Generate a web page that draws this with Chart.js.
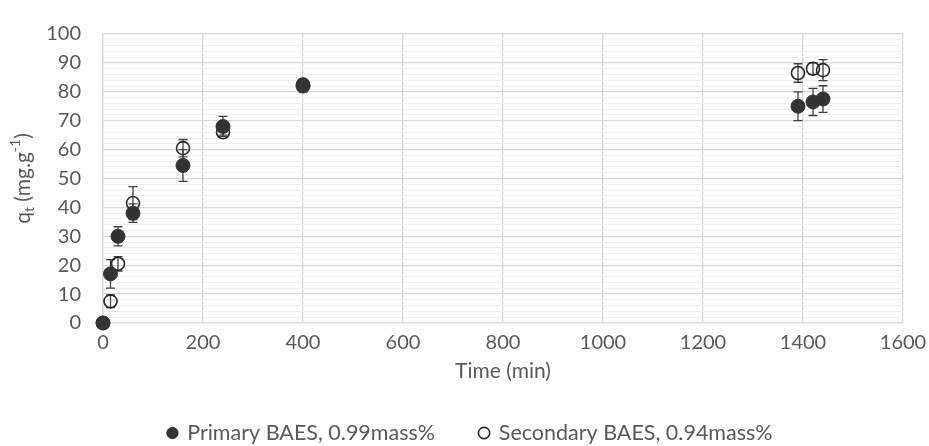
<!DOCTYPE html>
<html>
<head>
<meta charset="utf-8">
<script src="https://cdn.jsdelivr.net/npm/chart.js@4/dist/chart.umd.min.js"></script>
<style>
  html, body { margin: 0; padding: 0; background: #fff; }
  #wrap { width: 929px; height: 446px; }
</style>
</head>
<body>
<div id="wrap"><canvas id="kinetics"></canvas></div>
<script>
// Adsorption kinetics: q_t against contact time
const timeMin = [0, 15, 30, 60, 160, 240, 400, 1390, 1420, 1440];
const primaryQt = [0, 17, 30, 38, 54.5, 68, 82, 75, 76.5, 77.5];
const primaryErr = [0, 4.9, 3.3, 3.2, 5.5, 3.5, 2, 5, 4.7, 4.6];
const secondaryQt = [0, 7.5, 20.5, 41.5, 60.5, 66, 82.5, 86.5, 88, 87.5];
const secondaryErr = [0, 2.2, 2.5, 5.7, 3, 1, 1.5, 3.2, 2, 3.6];

const FONT = 'Lato, "Open Sans", sans-serif';
const GREY = '#595959';

// vertical error bars with caps, drawn under the markers
const errorBars = {
  id: 'errorBars',
  beforeDatasetsDraw(chart) {
    const { ctx, scales: { x, y } } = chart;
    const sets = [[primaryQt, primaryErr], [secondaryQt, secondaryErr]];
    ctx.save();
    ctx.strokeStyle = '#404040';
    ctx.lineWidth = 1.3;
    sets.forEach(([vals, errs]) => {
      vals.forEach((v, i) => {
        if (!errs[i]) return;
        const px = x.getPixelForValue(timeMin[i]);
        const top = y.getPixelForValue(v + errs[i]);
        const bot = y.getPixelForValue(v - errs[i]);
        ctx.beginPath();
        ctx.moveTo(px, top); ctx.lineTo(px, bot);
        ctx.moveTo(px - 4.5, top); ctx.lineTo(px + 4.5, top);
        ctx.moveTo(px - 4.5, bot); ctx.lineTo(px + 4.5, bot);
        ctx.stroke();
      });
    });
    ctx.restore();
  }
};

// y axis title with subscript and superscript
const yTitle = {
  id: 'yTitle',
  afterDraw(chart) {
    const { ctx, chartArea } = chart;
    const big = '21px ' + FONT, small = '14px ' + FONT;
    const parts = [
      ['q', big, 0], ['t', small, 6], [' (mg.g', big, 0], ['-1', small, -8], [')', big, 0]
    ];
    ctx.save();
    let w = 0;
    parts.forEach(p => { ctx.font = p[1]; w += ctx.measureText(p[0]).width; });
    ctx.translate(23, (chartArea.top + chartArea.bottom) / 2);
    ctx.rotate(-Math.PI / 2);
    ctx.fillStyle = GREY;
    ctx.textBaseline = 'middle';
    let cx = -w / 2;
    parts.forEach(p => {
      ctx.font = p[1];
      ctx.fillText(p[0], cx, p[2]);
      cx += ctx.measureText(p[0]).width;
    });
    ctx.restore();
  }
};

// the legend row counts a trailing gap, so nudge it back to centre
const legendShift = {
  id: 'legendShift',
  afterUpdate(chart) {
    chart.legend.left += 19;
    chart.legend.right += 19;
  }
};

new Chart(document.getElementById('kinetics'), {
  type: 'scatter',
  data: {
    datasets: [
      {
        label: 'Primary BAES, 0.99mass%',
        data: timeMin.map((t, i) => ({ x: t, y: primaryQt[i] })),
        clip: false,
        pointStyle: 'circle',
        pointRadius: 7,
        pointBackgroundColor: '#333333',
        pointBorderColor: '#333333',
        pointBorderWidth: 1
      },
      {
        label: 'Secondary BAES, 0.94mass%',
        data: timeMin.map((t, i) => ({ x: t, y: secondaryQt[i] })),
        clip: false,
        pointStyle: 'circle',
        pointRadius: 6.5,
        pointBackgroundColor: 'rgba(0,0,0,0)',
        pointBorderColor: '#262626',
        pointBorderWidth: 1.6
      }
    ]
  },
  options: {
    responsive: true,
    maintainAspectRatio: false,
    animation: false,
    events: [],
    layout: { padding: { top: 23, right: 26, left: 0, bottom: -7.75 } },
    plugins: {
      legend: {
        position: 'bottom',
        labels: {
          usePointStyle: true,
          boxWidth: 8,
          boxHeight: 8,
          padding: 45,
          color: GREY,
          font: { family: FONT, size: 21.5 }
        }
      },
      tooltip: { enabled: false }
    },
    scales: {
      x: {
        type: 'linear',
        min: 0,
        max: 1600,
        ticks: {
          stepSize: 200,
          color: GREY,
          padding: 8,
          font: { family: FONT, size: 20 },
          callback: v => String(v)
        },
        grid: { color: '#d9d9d9', lineWidth: 1.3, drawTicks: false },
        border: { color: '#d9d9d9', width: 1.3 },
        title: {
          display: true,
          text: 'Time (min)',
          color: GREY,
          font: { family: FONT, size: 21 },
          padding: { top: 0, bottom: -6.35 }
        },
        afterFit(s) {
          s.height = 54.25;
          s.paddingLeft = 0;
          s.paddingRight = 0;
        }
      },
      y: {
        min: 0,
        max: 100,
        ticks: {
          stepSize: 2,
          autoSkip: false,
          color: GREY,
          padding: 22,
          font: { family: FONT, size: 20 },
          callback: v => (v % 10 === 0 ? v : '')
        },
        grid: {
          drawTicks: false,
          color: c => (c.tick.value % 10 === 0 ? '#d9d9d9' : '#efefef'),
          lineWidth: c => (c.tick.value % 10 === 0 ? 1.3 : 1)
        },
        border: { color: '#d9d9d9', width: 1.3 },
        afterFit(s) { s.width = 103; }
      }
    }
  },
  plugins: [errorBars, yTitle, legendShift]
});
</script>
</body>
</html>
